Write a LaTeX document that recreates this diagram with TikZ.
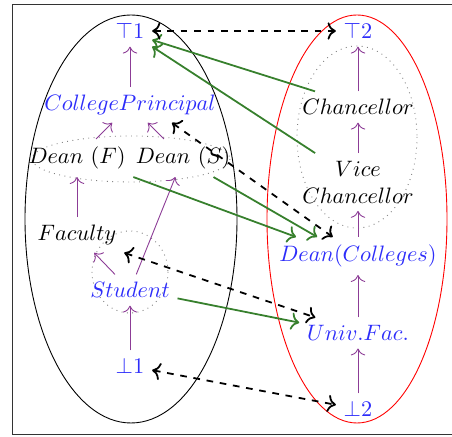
\documentclass[tikz,border=0pt]{standalone}
\usepackage{amsmath}
\usepackage{amssymb}
\usepackage{tikz}
\usetikzlibrary{arrows, arrows.meta, positioning}
\usepackage{xcolor}
\definecolor{levelcolor}{RGB}{45,45,250}
\definecolor{ordercolor}{RGB}{140,60,150}
\definecolor{flowcolor}{RGB}{55,128,45}

\begin{document}
\begin{tikzpicture}[
    x=0.448pt, y=-0.448pt,
    level/.style={text=levelcolor},
    role/.style={text=black},
    order/.style={-{Computer Modern Rightarrow[scale=1.25]}, draw=ordercolor},
    flow/.style={-{Computer Modern Rightarrow[scale=1.1]}, thick, draw=flowcolor},
    mapping/.style={{Computer Modern Rightarrow[scale=1.1]}-{Computer Modern Rightarrow[scale=1.1]}, thick, dashed},
    group/.style={dotted, draw=gray}
]
\useasboundingbox (0,0) rectangle (452,437);

% Frame and lattices
\draw[black!80] (452,4.5) -- (12,4.5) -- (12,434) -- (452,434);
\draw (131,219) ellipse [x radius=106, y radius=204];
\draw[red] (357,219) ellipse [x radius=90, y radius=204];

% Groups
\draw[group] (131,159) ellipse [x radius=99, y radius=23];
\draw[group] (130,272) ellipse [x radius=38, y radius=41];
\draw[group] (357,137) ellipse [x radius=60, y radius=91];

% Left lattice
\node[level] (top1) at (130,31) {$\top 1$};
\node[level] (principal) at (130,105) {$CollegePrincipal$};
\node[role] (deanF) at (77,158) {$Dean\ (F)$};
\node[role] (deanS) at (183,158) {$Dean\ (S)$};
\node[role] (faculty) at (77,235) {$Faculty$};
\node[level] (student) at (130,290) {$Student$};
\node[level] (bot1) at (130,366) {$\bot 1$};

% Right lattice
\node[level] (top2) at (358,31) {$\top 2$};
\node[role] (chancellor) at (358,107) {$Chancellor$};
\node[role, align=center] (vice) at (358,182) {$Vice$\\$Chancellor$};
\node[level] (deanC) at (358,256) {$Dean(Colleges)$};
\node[level] (univ) at (358,333) {$Univ.Fac.$};
\node[level] (bot2) at (358,409) {$\bot 2$};

% Orders
\draw[order] (principal) -- (top1);
\draw[order] (deanF) -- (principal);
\draw[order] (deanS) -- (principal);
\draw[order] (faculty) -- (deanF);
\draw[order] (student) -- (faculty);
\draw[order] (student) -- (deanS);
\draw[order] (bot1) -- (student);
\draw[order] (chancellor) -- (top2);
\draw[order] (vice) -- (chancellor);
\draw[order] (deanC) -- (vice);
\draw[order] (univ) -- (deanC);
\draw[order] (bot2) -- (univ);

% Flows
\draw[flow] (chancellor.160) -- (top1.-22);
\draw[flow] (vice.146) -- (top1.south east);
\draw[flow] (deanF.south east) -- ([xshift=11pt]deanC.north west);
\draw[flow] (deanS.-32) -- ([xshift=20.5pt]deanC.north west);
\draw[flow] (student.-10) -- (univ.170);

% Mappings
\draw[mapping] (top1) -- (top2);
\draw[mapping] (principal.-23) -- (deanC.143);
\draw[mapping] (faculty.south east) -- (univ.160);
\draw[mapping] (bot1) -- (bot2);

\end{tikzpicture}
\end{document}
